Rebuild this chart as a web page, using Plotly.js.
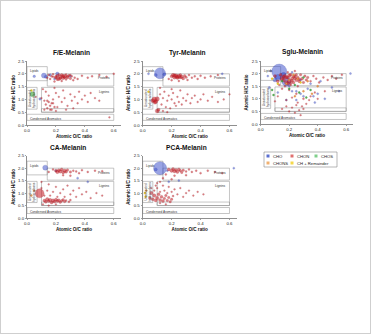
<!DOCTYPE html>
<html><head><meta charset="utf-8">
<script src="https://cdn.plot.ly/plotly-3.0.1.min.js"></script>
<style>html,body{margin:0;padding:0;background:#fff}#chart{width:371px;height:334px}</style>
</head><body><div id="chart"></div>
<script>
// ---------- DATA ----------
const panelNames = ['F/E-Melanin','Tyr-Melanin','Sglu-Melanin','CA-Melanin','PCA-Melanin'];
const classNames = ['CHO','CHON','CHOS','CHONS','CH + Remainder'];
const xTicks = [0,0.2,0.4,0.6];
const yTicks = [0,0.5,1,1.5,2,2.5];

// F/E-Melanin
const fe_cho_oc = [0.117,0.21,0.05,0.09,0.13,0.16,0.30,0.19];
const fe_cho_hc = [1.93,2.00,1.90,1.02,1.88,1.95,1.90,1.80];
const fe_cho_sz = [5,3.5,2.5,2.5,3,2.5,2,2];
const fe_chon_oc = [0.15,0.17,0.18,0.20,0.21,0.22,0.23,0.24,0.25,0.26,0.27,0.28,0.29,0.30,0.31,0.32,0.33,0.35,0.38,0.42,0.45,0.50,0.55,0.60,0.19,0.24,0.16,0.22,0.14,0.27,0.20,0.23,0.25,0.21,0.26,0.28,0.18,0.30,
  0.10,0.12,0.13,0.15,0.17,0.18,0.20,0.21,0.22,0.24,0.25,0.26,0.28,0.30,0.31,0.33,0.35,0.36,0.38,0.40,0.42,0.44,0.47,0.50,0.16,0.20,0.27,0.32,0.12,0.57,0.11,0.19,0.06,
  0.13,0.14,0.15,0.16,0.17,0.18,0.19,0.14];
const fe_chon_hc = [1.95,1.90,1.98,1.85,1.92,1.80,1.88,1.95,1.84,1.90,1.78,1.86,1.93,1.82,1.90,1.75,1.85,1.80,1.92,1.85,1.90,1.95,1.88,2.00,1.70,1.72,1.80,1.97,1.85,1.97,1.88,1.83,1.91,1.78,1.86,1.90,1.88,1.95,
  1.05,0.95,1.30,1.15,0.85,1.00,1.25,0.70,1.10,0.90,1.35,1.05,0.75,1.20,0.95,1.10,0.85,1.30,1.00,1.15,0.90,1.25,1.05,0.95,0.60,0.55,0.60,0.65,0.60,0.30,1.40,1.45,1.10,
  0.80,0.65,0.90,0.75,0.60,0.85,0.70,0.95];
const fe_chon_sz = [2,2,2,3,3,3.5,4,3,3.5,4,2,3,2.5,2.5,2,2,2,2,2,2,2,2,2,2,2,2,2,2,2,2,3,3,3,2.5,2.5,2.5,2,2,
  1.8,1.8,1.8,1.8,1.8,1.8,1.8,1.8,1.8,1.8,1.8,1.8,1.8,1.8,1.8,1.8,1.8,1.8,1.8,1.8,1.8,1.8,1.8,1.8,1.8,1.8,1.8,1.8,1.8,1.8,1.8,1.8,1.8,
  2,2,2,2,2,2,2,2];
const fe_chos_oc = [0.038];
const fe_chos_hc = [1.20];
const fe_chos_sz = [5];
const fe_chons_oc = [];
const fe_chons_hc = [];
const fe_ch_oc = [0.03];
const fe_ch_hc = [1.35];

// Tyr-Melanin
const ty_cho_oc = [0.12,0.09,0.15,0.04,0.55];
const ty_cho_hc = [2.02,1.95,1.98,2.00,2.00];
const ty_cho_sz = [11,3,3,2,2];
const ty_chon_oc = [0.20,0.21,0.22,0.23,0.24,0.25,0.26,0.27,0.28,0.29,0.30,0.32,0.34,0.36,0.38,0.40,0.43,0.47,0.52,0.18,0.20,0.25,0.31,0.22,0.24,0.26,
  0.07,0.08,0.09,0.10,0.085,0.10,0.11,
  0.12,0.13,0.14,0.15,0.16,0.17,0.18,0.19,0.20,0.21,0.22,0.23,0.24,0.25,0.26,0.27,0.28,0.30,0.31,0.33,0.34,0.36,0.38,0.40,0.42,0.45,0.48,0.52,0.56,0.60,0.14,0.17,0.12,0.20];
const ty_chon_hc = [1.90,1.95,1.87,1.92,1.85,1.90,1.95,1.88,1.82,1.92,1.87,1.95,1.85,1.90,1.80,1.92,1.85,1.90,1.95,1.80,1.75,1.72,1.76,1.93,1.88,1.86,
  0.95,1.00,0.92,1.02,0.88,0.55,0.60,
  1.20,0.80,1.05,1.30,0.70,0.95,1.15,0.65,1.00,1.25,0.85,0.75,1.10,0.90,1.35,0.80,1.05,0.95,1.20,0.85,1.05,1.15,0.90,1.00,1.20,0.95,1.10,0.90,1.00,1.20,0.55,0.50,1.45,1.40];
const ty_chon_sz = [3,3.5,4,4,3.5,4,3,3.5,3,2.5,2.5,2,2,2,2,2,2,2,2,2,2,2,2,3.5,3.5,3,
  4,5,4,4.5,3.5,4,3,
  1.8,1.8,1.8,1.8,1.8,1.8,1.8,1.8,1.8,1.8,1.8,1.8,1.8,1.8,1.8,1.8,1.8,1.8,1.8,1.8,1.8,1.8,1.8,1.8,1.8,1.8,1.8,1.8,1.8,1.8,1.8,1.8,1.8,1.8];
const ty_chos_oc = [];
const ty_chos_hc = [];
const ty_chons_oc = [];
const ty_chons_hc = [];
const ty_ch_oc = [0.04];
const ty_ch_hc = [1.30];

// Sglu-Melanin
const sg_cho_oc = [0.13,0.18,0.12,0.16,0.10,0.05,0.07,0.20,0.25,0.30,0.18,0.35,0.40,0.45,0.50,0.63,0.22,0.28,0.12,0.06,0.38,0.42,0.55,0.22,0.28,0.33,0.37,0.25];
const sg_cho_hc = [2.08,1.68,1.85,1.95,1.75,1.90,2.10,1.50,1.30,1.10,0.95,1.60,1.20,1.00,1.45,2.00,2.05,1.75,1.25,1.45,0.85,1.70,1.30,1.30,1.20,1.40,1.10,0.95];
const sg_cho_sz = [15,9,6,5,4,2,2,2,2,2,2,2,2,2,2,2,2,2,2,2,2,2,2,2,2,2,2,2];
const sg_chon_oc = [0.10,0.12,0.14,0.15,0.16,0.17,0.18,0.19,0.20,0.21,0.22,0.23,0.24,0.25,0.26,0.27,0.28,0.29,0.30,0.31,0.32,0.33,0.35,0.37,0.39,0.41,0.44,0.47,0.50,0.53,0.57,0.13,0.17,0.21,0.26,0.19,0.24,0.15,0.20,0.25,0.30,
  0.18,0.20,0.22,0.24,0.19,0.23,0.27,0.21,0.25,0.16,
  0.15,0.18,0.20,0.22,0.24,0.25,0.27,0.28,0.30,0.32,0.18,0.22,0.35,0.40,0.45,0.12,0.10,0.26,0.29,0.34,0.38];
const sg_chon_hc = [1.90,1.70,1.95,1.80,1.75,1.90,1.65,1.85,1.70,1.95,1.80,1.65,1.90,1.75,1.85,1.70,1.95,1.80,1.65,1.90,1.75,1.85,1.70,1.90,1.80,1.65,1.85,1.75,1.90,1.80,1.95,1.55,1.50,1.55,1.50,2.05,2.10,1.40,1.35,1.20,1.00,
  1.85,1.92,1.72,1.82,1.60,1.88,1.78,1.62,1.95,1.88,
  0.60,0.70,0.50,0.65,0.45,0.75,0.55,0.35,0.60,0.80,0.95,1.05,1.10,1.00,1.30,1.10,0.90,0.85,0.70,0.95,1.25];
const sg_chon_sz = [3,3,3,4,4,3.5,4,3.5,4,3,3.5,3,3,3.5,3,3,2.5,3,2.5,2.5,2.5,2.5,2,2,2,2,2,2,2,2,2,2,2,2,2,2,2,2,2,2,2,
  3.5,3.5,3,3,3,3,2.5,2.5,2.5,3,
  1.8,1.8,1.8,1.8,1.8,1.8,1.8,1.8,1.8,1.8,1.8,1.8,1.8,1.8,1.8,1.8,1.8,1.8,1.8,1.8,1.8];
const sg_chos_oc = [0.08,0.09,0.35,0.24,0.30,0.15,0.27,0.32,0.20];
const sg_chos_hc = [1.35,1.15,1.35,1.55,1.85,1.70,1.25,1.05,1.40];
const sg_chons_oc = [0.20,0.26,0.18,0.33,0.23,0.40,0.30,0.36,0.24];
const sg_chons_hc = [1.75,1.80,1.60,1.70,1.95,1.50,1.30,1.20,1.10];
const sg_ch_oc = [0.08,0.12,0.28];
const sg_ch_hc = [1.80,1.60,1.65];

// CA-Melanin
const ca_cho_oc = [0.126,0.20,0.35,0.42];
const ca_cho_hc = [2.02,1.90,1.60,1.45];
const ca_cho_sz = [5,2,2,2];
const ca_chon_oc = [0.087,
  0.20,0.21,0.22,0.23,0.24,0.25,0.26,0.27,0.28,0.30,0.32,0.34,0.36,0.18,0.15,0.38,0.42,0.47,0.52,0.30,0.25,
  0.12,0.13,0.14,0.15,0.16,0.17,0.18,0.19,0.20,0.21,0.22,0.23,0.24,0.25,0.26,0.27,0.29,0.30,
  0.10,0.12,0.14,0.15,0.16,0.18,0.20,0.21,0.23,0.25,0.26,0.28,0.30,0.32,0.34,0.36,0.38,0.41,0.44,0.48,0.52,0.11,0.15,0.20,0.10];
const ca_chon_hc = [0.99,
  1.90,1.85,1.92,1.87,1.95,1.83,1.90,1.86,1.93,1.85,1.90,1.87,1.80,1.95,1.85,1.92,1.85,1.90,1.88,1.70,1.72,
  0.70,0.65,0.75,0.68,0.72,0.62,0.70,0.66,0.74,0.68,0.71,0.63,0.69,0.73,0.66,0.70,0.65,0.72,
  1.20,0.90,1.10,1.35,0.90,1.05,1.25,0.85,1.00,1.15,0.85,1.30,0.95,1.10,0.85,1.20,0.95,1.05,0.80,1.00,0.90,0.55,0.50,0.55,1.45];
const ca_chon_sz = [9,
  3,3.5,3,3.5,3,3,3.5,3,2.5,2.5,2,2,2,2,2,2,2,2,2,2,2,
  3,3,3.5,3,3.5,3,3.5,3,3,3,3,2.5,2.5,2.5,2.5,2,2,2,
  1.8,1.8,1.8,1.8,1.8,1.8,1.8,1.8,1.8,1.8,1.8,1.8,1.8,1.8,1.8,1.8,1.8,1.8,1.8,1.8,1.8,1.8,1.8,1.8,1.8];
const ca_chos_oc = [];
const ca_chos_hc = [];
const ca_chons_oc = [0.03,0.05];
const ca_chons_hc = [0.90,1.10];
const ca_ch_oc = [];
const ca_ch_hc = [];

// PCA-Melanin
const pc_cho_oc = [0.12,0.09,0.17,0.25,0.63,0.18];
const pc_cho_hc = [2.00,1.95,1.90,1.50,2.00,1.45];
const pc_cho_sz = [13,3,2,2,2,2];
const pc_chon_oc = [0.18,0.20,0.21,0.22,0.23,0.24,0.25,0.26,0.27,0.28,0.30,0.32,0.34,0.37,0.40,0.45,0.50,0.55,0.16,0.22,0.30,0.14,0.20,
  0.05,0.06,0.07,0.08,0.09,0.10,0.11,0.12,0.13,0.14,0.15,0.16,0.17,0.18,0.19,0.20,0.21,
  0.08,0.10,0.12,0.14,0.15,0.17,0.18,0.20,0.22,0.24,0.26,0.28,0.30,0.32,0.35,0.38,0.42,0.10,0.12,0.16,0.12,0.09,0.06];
const pc_chon_hc = [1.95,1.90,1.97,1.88,1.93,1.85,1.95,1.90,1.83,1.92,1.87,1.95,1.85,1.90,1.80,1.90,1.85,1.80,1.75,1.70,1.72,1.60,1.55,
  0.80,1.00,0.75,0.90,0.70,0.80,0.95,0.72,0.85,0.68,0.78,0.90,0.70,0.82,0.65,0.75,0.88,
  1.10,1.20,1.05,1.30,1.10,1.00,1.25,1.05,1.15,0.95,1.20,0.85,1.00,1.10,0.90,1.05,0.95,1.40,1.45,0.55,0.60,1.30,1.20];
const pc_chon_sz = [3,3.5,3,3.5,3,3,3,2.5,2.5,2.5,2,2,2,2,2,2,2,2,2,2,2,2,2,
  3,3.5,3,3.5,3,3.5,3,3,3,3,2.5,2.5,2.5,2.5,2.5,2.5,2,
  1.8,1.8,1.8,1.8,1.8,1.8,1.8,1.8,1.8,1.8,1.8,1.8,1.8,1.8,1.8,1.8,1.8,1.8,1.8,1.8,1.8,1.8,1.8];
const pc_chos_oc = [];
const pc_chos_hc = [];
const pc_chons_oc = [0.025];
const pc_chons_hc = [1.10];
const pc_ch_oc = [0.015,0.02];
const pc_ch_hc = [1.00,0.85];

// Compound-class regions of the van Krevelen diagram
const regionNames = ['Lipids','Proteins','Lignins','','Unsaturated hydrocarbons','Condensed Aromatics'];
const regionOC0 = [0, 0.14, 0.10, 0.10, 0, 0];
const regionOC1 = [0.14, 0.60, 0.60, 0.60, 0.07, 0.60];
const regionHC0 = [1.73, 1.52, 0.50, 0.50, 0.62, 0.18];
const regionHC1 = [2.28, 2.00, 1.47, 0.64, 1.47, 0.42];

// ---------- STYLE / LAYOUT ----------
const W = 371, H = 334;
const classColor = ['rgba(62,82,205,0.75)','rgba(200,28,38,0.8)','rgba(70,175,70,0.9)','rgba(238,150,70,0.9)','rgba(240,205,30,0.95)'];
const classLine  = ['rgba(35,45,150,0.9)','rgba(140,15,22,0.8)','rgba(40,120,40,0.9)','rgba(190,110,40,0.9)','rgba(180,150,10,0.9)'];
const legColor = ['#5a6fd0','#e0706f','#7fcf8a','#f0b070','#f5d84a'];
const boxes = [ // plot areas in px: left, right, top, bottom
  [27,121,61,125],[142.7,236.7,61,125],[260.7,353.3,61,124],[27,121,155.7,218],[142.7,236.7,155.7,218]];
const titlePos = [[71,53],[187,53],[302,52],[68,148],[186,148]];
const FONT = 'Liberation Sans, Arial, sans-serif';

const seriesByPanel = [
  [[fe_cho_oc,fe_cho_hc,fe_cho_sz],[fe_chon_oc,fe_chon_hc,fe_chon_sz],[fe_chos_oc,fe_chos_hc,fe_chos_sz],[fe_chons_oc,fe_chons_hc,null],[fe_ch_oc,fe_ch_hc,null]],
  [[ty_cho_oc,ty_cho_hc,ty_cho_sz],[ty_chon_oc,ty_chon_hc,ty_chon_sz],[ty_chos_oc,ty_chos_hc,null],[ty_chons_oc,ty_chons_hc,null],[ty_ch_oc,ty_ch_hc,null]],
  [[sg_cho_oc,sg_cho_hc,sg_cho_sz],[sg_chon_oc,sg_chon_hc,sg_chon_sz],[sg_chos_oc,sg_chos_hc,null],[sg_chons_oc,sg_chons_hc,null],[sg_ch_oc,sg_ch_hc,null]],
  [[ca_cho_oc,ca_cho_hc,ca_cho_sz],[ca_chon_oc,ca_chon_hc,ca_chon_sz],[ca_chos_oc,ca_chos_hc,null],[ca_chons_oc,ca_chons_hc,null],[ca_ch_oc,ca_ch_hc,null]],
  [[pc_cho_oc,pc_cho_hc,pc_cho_sz],[pc_chon_oc,pc_chon_hc,pc_chon_sz],[pc_chos_oc,pc_chos_hc,null],[pc_chons_oc,pc_chons_hc,null],[pc_ch_oc,pc_ch_hc,null]]
];

const traces = [];
const layout = {
  width: W, height: H, margin: {l:0,r:0,t:0,b:0},
  paper_bgcolor: '#fff', plot_bgcolor: 'rgba(0,0,0,0)',
  showlegend: false, font: {family: FONT, color: '#222'},
  shapes: [], annotations: []
};

panelNames.forEach((name, p) => {
  const k = p === 0 ? '' : String(p + 1);
  const xa = 'x' + k, ya = 'y' + k;
  const b = boxes[p];
  [0,1,2,3,4].forEach(c => {
    const s = seriesByPanel[p][c];
    if (!s[0].length) return;
    traces.push({
      type: 'scatter', mode: 'markers', x: s[0], y: s[1], xaxis: xa, yaxis: ya,
      name: classNames[c], hoverinfo: 'skip',
      marker: {size: s[2] || 2, color: classColor[c], line: {color: classLine[c], width: 0.3}}
    });
  });
  layout['xaxis' + k] = {
    domain: [b[0]/W, b[1]/W], anchor: ya, range: [0, 0.65],
    tickvals: xTicks, ticktext: xTicks.map(v => v.toFixed(1)),
    showgrid: false, zeroline: false, showline: true, linecolor: '#444', linewidth: 0.6,
    ticks: 'outside', ticklen: 1.5, tickwidth: 0.5, tickcolor: '#444',
    tickfont: {size: 4.3, family: FONT, color: '#222'},
    title: {text: '<b>Atomic O/C ratio</b>', font: {size: 4.6, family: FONT, color: '#111'}, standoff: 1.5}
  };
  layout['yaxis' + k] = {
    domain: [1 - b[3]/H, 1 - b[2]/H], anchor: xa, range: [0, 2.5],
    tickvals: yTicks, ticktext: yTicks.map(v => v.toFixed(1)),
    showgrid: false, zeroline: false, showline: true, linecolor: '#444', linewidth: 0.6,
    ticks: 'outside', ticklen: 1.5, tickwidth: 0.5, tickcolor: '#444',
    tickfont: {size: 4.3, family: FONT, color: '#222'},
    title: {text: '<b>Atomic H/C ratio</b>', font: {size: 4.6, family: FONT, color: '#111'}, standoff: 2}
  };
  regionNames.forEach((rn, r) => {
    layout.shapes.push({type:'rect', xref: xa, yref: ya, x0: regionOC0[r], x1: regionOC1[r], y0: regionHC0[r], y1: regionHC1[r],
      line: {color: '#8a8a8a', width: 0.5}, fillcolor: 'rgba(0,0,0,0)', layer: 'below'});
  });
  const lab = (text, x, y, xanchor, yanchor, angle) => layout.annotations.push({
    text, x, y, xref: xa, yref: ya, xanchor, yanchor, showarrow: false, textangle: angle || 0,
    font: {size: 3.2, family: FONT, color: '#333'}});
  lab('Lipids', 0.01, 2.26, 'left', 'top');
  lab('Proteins', 0.59, 1.98, 'right', 'top');
  lab('Lignins', 0.59, 1.45, 'right', 'top');
  lab('Condensed Aromatics', 0.01, 0.41, 'left', 'top');
  lab('Unsaturated<br>hydrocarbons', 0.035, 1.05, 'center', 'middle', -90);
  layout.annotations.push({text: '<b>' + name + '</b>', x: titlePos[p][0]/W, y: 1 - titlePos[p][1]/H,
    xref: 'paper', yref: 'paper', xanchor: 'center', yanchor: 'middle', showarrow: false,
    font: {size: 6.6, family: FONT, color: '#111'}});
});

// legend (drawn in paper space)
const legX = [268, 292, 316, 268, 292], legY = [156, 156, 156, 163, 163];
layout.shapes.push({type:'rect', xref:'paper', yref:'paper', x0: 264/W, x1: 337/W, y0: 1-167/H, y1: 1-152/H,
  line: {color:'#888', width: 0.6}, fillcolor:'#fff'});
classNames.forEach((cn, c) => {
  layout.shapes.push({type:'rect', xref:'paper', yref:'paper', x0: (legX[c]-1.5)/W, x1: (legX[c]+1.5)/W,
    y0: 1-(legY[c]+1.5)/H, y1: 1-(legY[c]-1.5)/H, line:{width:0}, fillcolor: legColor[c]});
  layout.annotations.push({text: cn, x: (legX[c]+3)/W, y: 1-legY[c]/H, xref:'paper', yref:'paper',
    xanchor:'left', yanchor:'middle', showarrow:false, font:{size:4.2, family: FONT, color:'#222'}});
});
layout.shapes.push({type:'rect', xref:'paper', yref:'paper', x0:0, x1:1, y0:0, y1:1,
  line:{color:'#cfcfcf', width:2}, fillcolor:'rgba(0,0,0,0)'});

Plotly.newPlot('chart', traces, layout, {staticPlot: true, displayModeBar: false});
</script></body></html>
